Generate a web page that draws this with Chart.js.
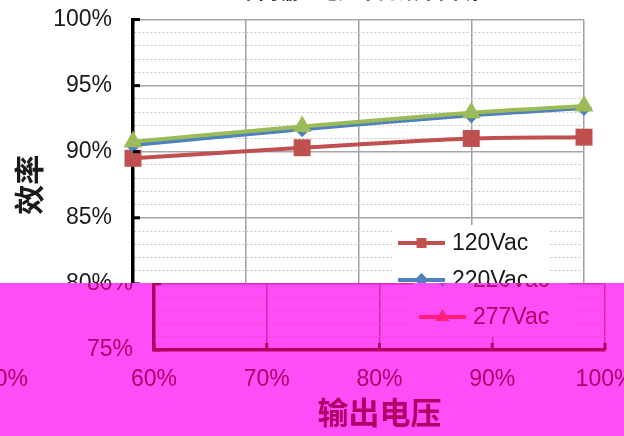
<!DOCTYPE html>
<html><head><meta charset="utf-8">
<script src="https://cdn.jsdelivr.net/npm/chart.js@4"></script>
<style>
html,body{margin:0;padding:0;width:624px;height:436px;overflow:hidden;background:#fff;}
#main{position:absolute;left:0;top:-26px;}
#band{position:absolute;left:0;top:283px;width:624px;height:153px;overflow:hidden;background:rgb(255,78,248);}
#copy{position:absolute;left:-19px;top:-309px;}
</style></head><body>
<canvas id="main" width="624" height="462"></canvas>
<div id="band"><canvas id="copy" width="664" height="462"></canvas></div>
<script>
// ---- data ----
const chartTitle = '不同输入电压下的效率曲线';
const xTitle = '输出电压';
const yTitle = '效率';
const seriesNames = ['120Vac', '220Vac', '277Vac'];
const loadPct = [60, 75, 90, 100];
const eff120 = [89.5, 90.3, 91.0, 91.1];
const eff220 = [90.5, 91.7, 92.75, 93.3];
const eff277 = [90.75, 91.9, 92.95, 93.45];
const yRange = [75, 100];
const xRange = [60, 100];
const xTickStep = 10;
const yMajorStep = 5;

const FONT = "'Liberation Sans', Arial, sans-serif";
const CJK = "'Noto Sans CJK SC', sans-serif";

const themes = {
  main: {
    bg: '#ffffff', text: '#1a1a1a', major: '#a6a6a6', minor: '#c4c4c4', vgrid: '#a0a0a0', axis: '#000000',
    series: ['#c0504d', '#4f81bd', '#9bbb59'], legendBg: '#ffffff', wrapLabel: false, extraLeft: 0
  },
  copy: {
    bg: 'rgb(255,78,248)', text: 'rgb(180,0,105)', major: 'rgb(232,40,185)', minor: 'rgb(240,70,210)', vgrid: 'rgb(228,30,170)', axis: 'rgb(178,0,95)',
    series: ['rgb(235,40,120)', 'rgb(190,60,235)', 'rgb(255,30,120)'], legendBg: 'rgb(255,78,248)', wrapLabel: true, extraLeft: 40
  }
};

const styles = [
  {pointStyle: 'rect', radius: 12, legendRadius: 7},
  {pointStyle: 'rectRot', radius: 8, legendRadius: 7},
  {pointStyle: 'triangle', radius: 11, legendRadius: 8}
];

function makeConfig(th) {
  const values = [eff120, eff220, eff277];
  const orders = [2, 1, 0];
  const datasets = values.map((vals, i) => ({
    label: seriesNames[i],
    data: loadPct.map((x, j) => ({x: x, y: vals[j]})),
    borderColor: th.series[i],
    backgroundColor: th.series[i],
    borderWidth: 4,
    tension: 0.35,
    clip: false,
    pointStyle: styles[i].pointStyle,
    pointRadius: styles[i].radius,
    pointBorderWidth: 0,
    order: orders[i]
  }));

  const bgPlugin = {
    id: 'bg',
    beforeDraw(chart) {
      const c = chart.ctx;
      c.save(); c.fillStyle = th.bg; c.fillRect(0, 0, chart.width, chart.height); c.restore();
    }
  };

  const innerTicks = {
    id: 'innerTicks',
    afterDraw(chart) {
      const c = chart.ctx, a = chart.chartArea, xs = chart.scales.x, ys = chart.scales.y;
      c.save();
      c.strokeStyle = th.axis; c.lineWidth = 3;
      for (let v = yRange[0]; v <= yRange[1]; v += yMajorStep) {
        const py = ys.getPixelForValue(v);
        c.beginPath(); c.moveTo(a.left, py); c.lineTo(a.left + 7, py); c.stroke();
      }
      for (let v = xRange[0]; v <= xRange[1]; v += xTickStep) {
        const px = xs.getPixelForValue(v);
        c.beginPath(); c.moveTo(px, a.bottom); c.lineTo(px, a.bottom - 7); c.stroke();
      }
      c.restore();
    }
  };

  const boxLegend = {
    id: 'boxLegend',
    afterDraw(chart) {
      const c = chart.ctx, a = chart.chartArea;
      const bx = a.left + 259, by = a.top + 205.5, bw = 156, bh = 111;
      c.save();
      c.fillStyle = th.legendBg;
      c.fillRect(bx, by, bw, bh);
      const rows = [223.5, 260.5, 297.5];
      c.font = '23px ' + FONT;
      c.textBaseline = 'middle';
      c.textAlign = 'left';
      for (let i = 0; i < seriesNames.length; i++) {
        const y = a.top + rows[i];
        const x0 = a.left + 265, x1 = a.left + 312;
        c.strokeStyle = th.series[i]; c.lineWidth = 4;
        c.beginPath(); c.moveTo(x0, y); c.lineTo(x1, y); c.stroke();
        c.fillStyle = th.series[i];
        Chart.helpers.drawPoint(c, {pointStyle: styles[i].pointStyle, radius: styles[i].legendRadius, rotation: 0, borderWidth: 0}, (x0 + x1) / 2, y);
        c.fillStyle = th.text;
        c.fillText(seriesNames[i], a.left + 319, y + 1);
      }
      c.restore();
    }
  };

  const wrapLabel = {
    id: 'wrapLabel',
    afterDraw(chart) {
      if (!th.wrapLabel) return;
      const c = chart.ctx, a = chart.chartArea;
      c.save();
      c.font = '23px ' + FONT;
      c.fillStyle = th.text;
      c.textAlign = 'right';
      c.textBaseline = 'middle';
      c.fillText(xRange[1] + '%', 47, a.bottom + 30);
      c.restore();
    }
  };

  return {
    type: 'line',
    data: {datasets},
    options: {
      responsive: false,
      animation: false,
      devicePixelRatio: 1,
      layout: {padding: {left: 0, right: 40, top: 0, bottom: 0}, autoPadding: false},
      plugins: {
        legend: {display: false},
        tooltip: {enabled: false},
        title: {
          display: true, text: chartTitle, color: th.text, fullSize: false,
          font: {family: CJK, size: 20, weight: 'bold', lineHeight: 1.2},
          padding: {top: 5, bottom: 16.5}
        }
      },
      scales: {
        x: {
          type: 'linear', min: xRange[0], max: xRange[1],
          afterFit(s) { s.height = 86; s.paddingLeft = 0; s.paddingRight = 0; },
          ticks: {stepSize: xTickStep, color: th.text, padding: 16, font: {family: FONT, size: 23},
            callback: v => v + '%'},
          grid: {color: th.vgrid, lineWidth: 1.5, drawTicks: false},
          border: {color: th.axis, width: 3.5},
          title: {display: true, text: xTitle, color: th.text, font: {family: CJK, size: 31, weight: 'bold', lineHeight: 1.2}, padding: {top: 0, bottom: 5}}
        },
        y: {
          type: 'linear', min: yRange[0], max: yRange[1],
          afterFit(s) { s.width = 133 + th.extraLeft; },
          ticks: {stepSize: 1, autoSkip: false, color: th.text, padding: 21, font: {family: FONT, size: 23},
            callback: v => (v % yMajorStep === 0 ? v + '%' : '')},
          grid: {
            drawTicks: false,
            color: ctx => (ctx.tick && ctx.tick.value % yMajorStep === 0 ? th.major : th.minor),
            lineWidth: ctx => (ctx.tick && ctx.tick.value % yMajorStep === 0 ? 1.5 : 1)
          },
          border: {
            color: th.axis, width: 3.5,
            dash: ctx => (ctx.type === 'tick' && ctx.tick && ctx.tick.value % yMajorStep !== 0 ? [2, 2] : [])
          },
          title: {display: true, text: yTitle, color: th.text, font: {family: CJK, size: 30, weight: 'bold', lineHeight: 1.2}, padding: {top: 11 + th.extraLeft, bottom: 0}}
        }
      }
    },
    plugins: [bgPlugin, innerTicks, boxLegend, wrapLabel]
  };
}

new Chart(document.getElementById('main'), makeConfig(themes.main));
new Chart(document.getElementById('copy'), makeConfig(themes.copy));
</script>
</body></html>
